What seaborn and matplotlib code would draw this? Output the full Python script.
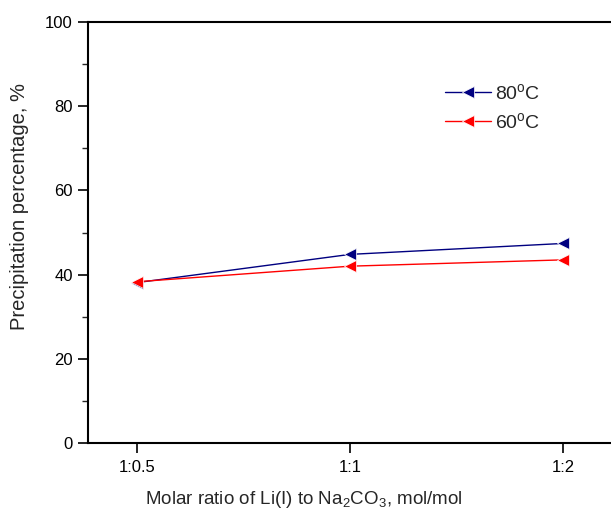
import matplotlib
matplotlib.use("Agg")
import matplotlib.pyplot as plt
from matplotlib.ticker import MultipleLocator
import seaborn as sns
import pandas as pd

# Molar ratio categories and precipitation percentages (%)
ratios = ["1:0.5", "1:1", "1:2"]
precip_80C = [38.1, 44.8, 47.4]
precip_60C = [38.3, 42.0, 43.5]
series_labels = ["80$^{\\rm o}$C", "60$^{\\rm o}$C"]
series_colors = ["#000080", "#FF0000"]

df = pd.DataFrame({
    "ratio": ratios * 2,
    "value": precip_80C + precip_60C,
    "series": [series_labels[0]] * 3 + [series_labels[1]] * 3,
})

sns.set_style("ticks")
plt.rcParams["font.family"] = ["Liberation Sans", "DejaVu Sans"]
plt.rcParams["mathtext.fontset"] = "custom"
plt.rcParams["mathtext.rm"] = "Liberation Sans"
plt.rcParams["mathtext.it"] = "Liberation Sans:italic"

fig = plt.figure(figsize=(6.11, 5.13), dpi=100)
ax = fig.add_axes([88 / 611, 1 - 443 / 513, (612 - 88) / 611, (443 - 22) / 513])

sns.lineplot(
    data=df, x="ratio", y="value", hue="series",
    hue_order=series_labels, palette=series_colors,
    marker="<", markersize=9, markeredgewidth=0.5, linewidth=1.0,
    ax=ax, sort=False,
)

ax.set_xlim(-0.23, 2.23)
ax.set_ylim(0, 100)
ax.yaxis.set_major_locator(MultipleLocator(20))
ax.yaxis.set_minor_locator(MultipleLocator(10))

for s in ax.spines.values():
    s.set_linewidth(1.5)
    s.set_color("black")
ax.spines["right"].set_visible(False)

ax.tick_params(axis="both", which="major", direction="out", length=7, width=1.2,
               labelsize=12, colors="black", pad=4)
ax.tick_params(axis="y", which="minor", direction="out", length=4, width=1.0)
ax.tick_params(axis="x", pad=5)

ax.set_xlabel("Molar ratio of Li(I) to Na$_2$CO$_3$, mol/mol", fontsize=13.5)
ax.set_ylabel("Precipitation percentage, %", fontsize=14.5)
ax.xaxis.set_label_coords(0.412, -0.11)
ax.yaxis.set_label_coords(-0.113, 0.562)

leg = ax.legend(
    loc="upper left", bbox_to_anchor=(0.681, 0.855), frameon=False,
    borderaxespad=0, borderpad=0,
    fontsize=14, handlelength=2.35, handletextpad=0.25, labelspacing=0.45,
)

fig.savefig("out.png", dpi=100)
